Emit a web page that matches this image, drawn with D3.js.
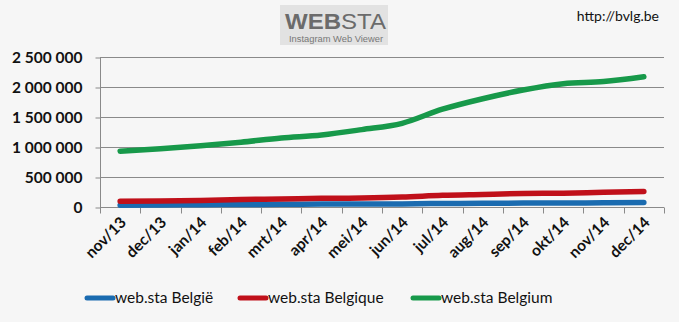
<!DOCTYPE html>
<html><head><meta charset="utf-8">
<script src="https://cdnjs.cloudflare.com/ajax/libs/d3/7.8.5/d3.min.js"></script>
<style>
body{margin:0;background:#f6f6f6;}
svg{display:block;}
</style></head>
<body>
<svg id="c" width="679" height="322"></svg>
<script>
const categories = ["nov/13","dec/13","jan/14","feb/14","mrt/14","apr/14","mei/14","jun/14","jul/14","aug/14","sep/14","okt/14","nov/14","dec/14"];
const seriesNames = ["web.sta België","web.sta Belgique","web.sta Belgium"];
const belgie   = [30000,35000,38000,42000,45000,48000,50000,52000,58000,62000,65000,66000,70000,75000];
const belgique = [95000,100000,110000,125000,135000,145000,150000,165000,195000,210000,225000,230000,245000,258000];
const belgium  = [930000,970000,1020000,1080000,1150000,1200000,1290000,1395000,1630000,1805000,1950000,2055000,2090000,2170000];
const yTicks = [0,500000,1000000,1500000,2000000,2500000];
const colors = ["#1a6bb0","#c0101a","#17994a"];

const svg = d3.select("#c");
svg.append("rect").attr("width",679).attr("height",322).attr("fill","#f6f6f6");

const x = d3.scaleBand().domain(categories).range([100,664]);
const y = d3.scaleLinear().domain([0,2500000]).range([207,57]);

const fmt = v => d3.format(",")(v).replace(/,/g," ");

// gridlines
svg.append("g").selectAll("line").data(yTicks.slice(1)).join("line")
  .attr("x1",100).attr("x2",664).attr("y1",d=>y(d)+0.5).attr("y2",d=>y(d)+0.5)
  .attr("stroke","#8a8a8a").attr("stroke-width",1);

// y axis
const ya = svg.append("g").attr("transform","translate(100.5,0.5)")
  .call(d3.axisLeft(y).tickValues(yTicks).tickFormat(fmt).tickSize(5).tickPadding(13));
ya.select(".domain").attr("stroke","#8a8a8a").attr("d","M0,"+y(2500000)+"V"+y(0));
ya.selectAll(".tick line").attr("stroke","#8a8a8a");
ya.selectAll("text").attr("font-family","Lato, 'Open Sans', sans-serif").attr("font-weight","bold")
  .attr("font-size","15.5px").attr("fill","#111");

// x axis
const xa = svg.append("g").attr("transform","translate(0,"+(y(0)+0.5)+")");
xa.append("line").attr("x1",100).attr("x2",664).attr("stroke","#8a8a8a");
const bounds = categories.map(c=>x(c)).concat([664]);
xa.selectAll("line.t").data(bounds).join("line").attr("class","t")
  .attr("x1",d=>Math.round(d)+0.5).attr("x2",d=>Math.round(d)+0.5).attr("y1",0).attr("y2",6)
  .attr("stroke","#8a8a8a");
xa.selectAll("text").data(categories).join("text")
  .attr("transform",d=>"translate("+(x(d)+x.bandwidth()/2+7)+",16) rotate(-45)")
  .attr("text-anchor","end").attr("font-family","Lato, 'Open Sans', sans-serif")
  .attr("font-weight","bold").attr("font-size","15.5px").attr("fill","#111").text(d=>d);

// lines
const line = d3.line().x((d,i)=>x(categories[i])+x.bandwidth()/2).y(d=>y(d)).curve(d3.curveMonotoneX);
[belgie,belgique,belgium].forEach((s,i)=>{
  svg.append("path").datum(s).attr("d",line).attr("fill","none")
    .attr("stroke",colors[i]).attr("stroke-width",5.5).attr("stroke-linecap","round").attr("stroke-linejoin","round");
});

// legend
const legX = [87,240,413];
seriesNames.forEach((n,i)=>{
  svg.append("line").attr("x1",legX[i]).attr("x2",legX[i]+26).attr("y1",298).attr("y2",298)
    .attr("stroke",colors[i]).attr("stroke-width",5).attr("stroke-linecap","round");
  svg.append("text").attr("x",legX[i]+28).attr("y",303).attr("font-family","Lato, 'Open Sans', sans-serif")
    .attr("font-size","15.5px").attr("fill","#111").text(n);
});

// logo
const logo = svg.append("g");
logo.append("rect").attr("x",280).attr("y",5).attr("width",108).attr("height",40).attr("fill","#e2e2e2");
const wt = logo.append("text").attr("x",285).attr("y",29)
  .attr("textLength",101).attr("lengthAdjust","spacingAndGlyphs")
  .attr("font-family","'Liberation Sans', Arial, sans-serif").attr("font-size","22px").attr("fill","#6b6b6b");
wt.append("tspan").attr("font-weight","bold").text("WEB");
wt.append("tspan").attr("font-weight","normal").text("STA");
logo.append("text").attr("x",289).attr("y",41.5)
  .attr("textLength",94).attr("lengthAdjust","spacingAndGlyphs")
  .attr("font-family","'Liberation Sans', Arial, sans-serif").attr("font-size","8.5px").attr("fill","#777").text("Instagram Web Viewer");

svg.append("text").attr("x",659).attr("y",21).attr("text-anchor","end")
  .attr("font-family","Lato, 'Open Sans', sans-serif").attr("font-size","14px").attr("fill","#111").text("http://bvlg.be");
</script>
</body></html>
